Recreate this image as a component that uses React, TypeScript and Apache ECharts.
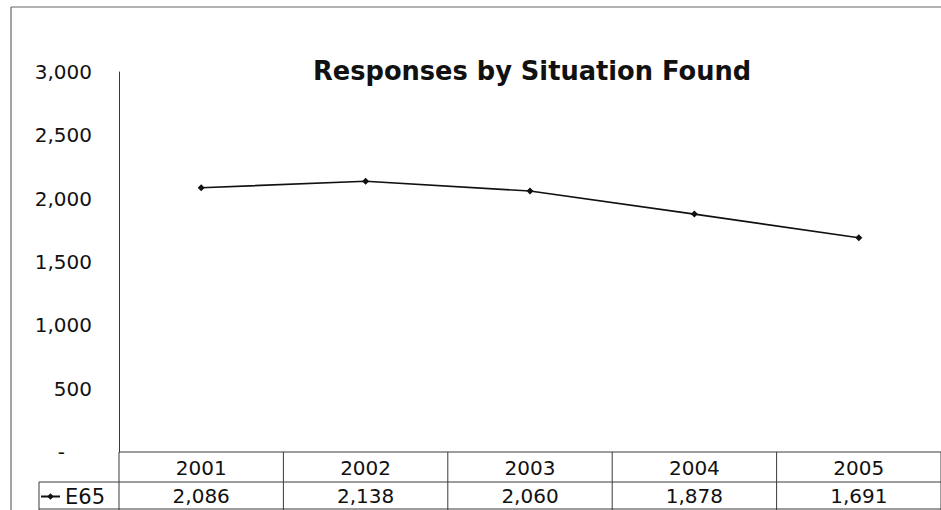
import React, { useEffect, useRef } from "react";
import * as echarts from "echarts";

// Annual responses, series E65
const years = ["2001", "2002", "2003", "2004", "2005"];
const e65 = [2086, 2138, 2060, 1878, 1691];
const seriesName = "E65";
const chartTitle = "Responses by Situation Found";
const yMin = 0;
const yMax = 3000;
const yStep = 500;

const FONT = "DejaVu Sans";
const INK = "#111";
const RULE = "#3a3a3a";

const fmt = (v: number) => v.toLocaleString("en-US");

export default function App() {
  const ref = useRef<HTMLDivElement>(null);

  useEffect(() => {
    if (!ref.current) return;
    const chart = echarts.init(ref.current, null, { renderer: "svg" });

    chart.setOption({
      animation: false,
      backgroundColor: "#fff",
      title: {
        text: chartTitle,
        left: 313,
        top: 58,
        padding: 0,
        textStyle: { fontFamily: FONT, fontSize: 25.7, fontWeight: "bold", color: INK },
      },
      legend: {
        data: [seriesName],
        left: 40,
        top: 486,
        padding: 0,
        itemWidth: 19,
        itemHeight: 8,
        itemGap: 0,
        textStyle: { fontFamily: FONT, fontSize: 21, color: INK, padding: [0, 0, 0, 0] },
      },
      grid: { left: 119, right: 0, top: 72, bottom: 58, containLabel: false },
      xAxis: [
        {
          type: "category",
          data: years,
          boundaryGap: true,
          axisLine: { show: false },
          axisTick: { show: false },
          axisLabel: {
            margin: 16,
            verticalAlign: "middle",
            fontFamily: FONT,
            fontSize: 20,
            color: INK,
          },
        },
        {
          type: "category",
          data: years,
          position: "bottom",
          boundaryGap: true,
          axisLine: { show: false },
          axisTick: { show: false },
          axisLabel: {
            margin: 44,
            verticalAlign: "middle",
            fontFamily: FONT,
            fontSize: 20,
            color: INK,
            formatter: (_: string, i: number) => fmt(e65[i]),
          },
        },
      ],
      yAxis: {
        type: "value",
        min: yMin,
        max: yMax,
        interval: yStep,
        splitLine: { show: false },
        axisTick: { show: false },
        axisLine: { show: true, lineStyle: { color: RULE, width: 1 } },
        axisLabel: {
          margin: 27,
          fontFamily: FONT,
          fontSize: 20,
          color: INK,
          formatter: (v: number) => (v === 0 ? "{dash|-}" : fmt(v)),
          rich: {
            dash: { fontFamily: FONT, fontSize: 20, color: INK, padding: [0, 27, 0, 0] },
          },
        },
      },
      series: [
        {
          name: seriesName,
          type: "line",
          data: e65,
          xAxisIndex: 0,
          symbol: "diamond",
          symbolSize: 7,
          lineStyle: { color: INK, width: 1.6 },
          itemStyle: { color: INK },
        },
      ],
    });

    // Data-table rules, placed from the category axis scale
    const c0 = chart.convertToPixel({ xAxisIndex: 0 }, years[0]) as number;
    const c1 = chart.convertToPixel({ xAxisIndex: 0 }, years[1]) as number;
    const band = c1 - c0;
    const edges = years.map((_, i) => c0 + band * i - band / 2);
    edges.push(c0 + band * (years.length - 1) + band / 2);
    const top = chart.convertToPixel({ yAxisIndex: 0 }, yMin) as number;
    const mid = top + 30;
    const bot = top + 57;
    const right = edges[edges.length - 1];
    const cellLeft = 39;

    const rule = (x1: number, y1: number, x2: number, y2: number) => ({
      type: "line",
      shape: { x1, y1, x2, y2 },
      style: { stroke: RULE, lineWidth: 1 },
      silent: true,
    });

    const lines: any[] = [
      rule(edges[0], top, right, top),
      rule(cellLeft, mid, right, mid),
      rule(cellLeft, bot, right, bot),
      rule(cellLeft, mid, cellLeft, bot + 2),
      ...edges.map((x) => rule(x, top, x, bot + 2)),
      // outer chart frame
      { type: "line", shape: { x1: 11, y1: 7, x2: 941, y2: 7 }, style: { stroke: "#666", lineWidth: 1.2 }, silent: true },
      { type: "line", shape: { x1: 11, y1: 7, x2: 11, y2: 510 }, style: { stroke: "#666", lineWidth: 1.2 }, silent: true },
    ];

    chart.setOption({ graphic: { elements: lines } });

    return () => chart.dispose();
  }, []);

  return (
    <div
      ref={ref}
      style={{ position: "fixed", left: 0, top: 0, width: 941, height: 510, background: "#fff" }}
    />
  );
}
